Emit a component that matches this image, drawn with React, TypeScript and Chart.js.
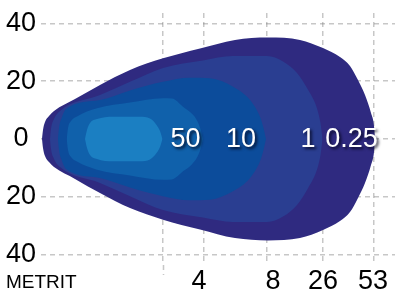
import React, { useEffect, useRef } from 'react';
import { Chart, registerables } from 'chart.js';

Chart.register(...registerables);

const FONT = '"Liberation Sans", Arial, sans-serif';

// Isolux contours (outer -> inner). Upper half outline: position along beam, half-width (m).
const contourNames = ['0.25', '1', '10', '50', '100'];
const contourColors = ['#2f2a80', '#2a3e91', '#0c4c9b', '#1061ab', '#1b7fc2'];

const c025X = [1, 2, 4, 8, 13, 34, 59, 89, 122, 159, 194, 227, 259, 282, 299, 309, 317, 324, 330, 333, 334];
const c025Y = [0, 3.1, 5.9, 8.0, 9.7, 13.8, 18.7, 23.9, 27.9, 31.3, 34.3, 35.1, 34.3, 31.5, 28.4, 25.3, 20.4, 15.2, 9.0, 4.5, 0];

const c1X = [9, 10, 13, 19, 59, 89, 122, 162, 192, 226, 242, 256, 267, 275.5, 279.5, 281.5];
const c1Y = [0, 3.5, 6.9, 9.7, 15.2, 19.8, 24.6, 27.2, 28.7, 28.7, 26.8, 22.8, 17.0, 11.1, 5.5, 0];

const c10X = [17, 18, 21, 25, 59, 89, 122, 149, 169, 192, 209, 219, 222.5, 225];
const c10Y = [0, 3.8, 7.6, 10.4, 13.5, 16.8, 19.8, 21.2, 21.0, 18.1, 13.5, 7.7, 3.8, 0];

const c50X = [25.7, 27, 30, 36, 56, 89, 122, 131, 142, 151, 155.7, 159.5, 162];
const c50Y = [0, 3.8, 6.2, 7.8, 10.6, 12.6, 14.1, 14.0, 11.2, 8.7, 6.6, 3.5, 0];

const c100X = [44, 46, 49, 56, 72, 99, 109, 115.7, 119, 121.5];
const c100Y = [0, 3.1, 5.5, 6.9, 7.7, 7.7, 7.1, 4.8, 2.8, 0];

const contoursX = [c025X, c1X, c10X, c50X, c100X];
const contoursY = [c025Y, c1Y, c10Y, c50Y, c100Y];

// Axes
const xMin = 0;
const xMax = 354;
const yMin = -43.6;
const yMax = 43.6;
const yTicks = [-40, -20, 0, 20, 40];
const xGridPos = [122, 163, 226, 282, 333];
const xLabelPos = [122, 158, 232, 282, 332];
const xLabels = ['', '4', '8', '26', '53'];
const unitLabel = 'METRIT';

// Lux labels inside the beam
const luxLabels = ['50', '10', '1', '0.25'];
const luxLabelPos = [144.5, 200, 267, 310.5];

const GRID = 'rgba(130,130,130,0.45)';
const DASH = [5, 4];

const labelPlugin = {
  id: 'luxLabels',
  afterDraw(chart: any) {
    const { ctx } = chart;
    const x = chart.scales.x;
    const y = chart.scales.y;
    ctx.save();
    ctx.font = `27px ${FONT}`;
    ctx.textAlign = 'center';
    ctx.textBaseline = 'middle';
    ctx.shadowColor = 'rgba(0,0,20,0.8)';
    ctx.shadowOffsetX = 2;
    ctx.shadowOffsetY = 2;
    ctx.shadowBlur = 3;
    ctx.fillStyle = '#ffffff';
    luxLabels.forEach((t, i) => {
      ctx.fillText(t, x.getPixelForValue(luxLabelPos[i]), y.getPixelForValue(0) + 1);
    });
    ctx.shadowColor = 'transparent';
    ctx.shadowBlur = 0;
    ctx.shadowOffsetX = 0;
    ctx.shadowOffsetY = 0;
    ctx.fillStyle = '#000000';
    ctx.font = `19px ${FONT}`;
    ctx.textAlign = 'left';
    ctx.textBaseline = 'alphabetic';
    ctx.fillText(unitLabel, 6, chart.height - 12);
    ctx.restore();
  },
};

export default function App() {
  const ref = useRef<HTMLCanvasElement>(null);

  useEffect(() => {
    document.body.style.margin = '0';
    const datasets: any[] = [];
    // inner contours first so they are drawn on top
    for (let k = contoursX.length - 1; k >= 0; k--) {
      const xs = contoursX[k];
      const ys = contoursY[k];
      const color = contourColors[k];
      datasets.push({
        label: contourNames[k] + ' upper',
        data: xs.map((v, i) => ({ x: v, y: ys[i] })),
        backgroundColor: color,
        borderColor: color,
        borderWidth: 0,
        pointRadius: 0,
        fill: '+1',
        cubicInterpolationMode: 'monotone',
        xAxisID: 'x',
        yAxisID: 'y',
      });
      datasets.push({
        label: contourNames[k] + ' lower',
        data: xs.map((v, i) => ({ x: v, y: -ys[i] })),
        backgroundColor: color,
        borderColor: color,
        borderWidth: 0,
        pointRadius: 0,
        fill: false,
        cubicInterpolationMode: 'monotone',
        xAxisID: 'x',
        yAxisID: 'y',
      });
    }

    const chart = new Chart(ref.current as HTMLCanvasElement, {
      type: 'line',
      data: { datasets },
      options: {
        responsive: false,
        animation: false,
        events: [],
        layout: { padding: { top: 13, right: 5, left: 0, bottom: 0 } },
        plugins: { legend: { display: false }, tooltip: { enabled: false } },
        scales: {
          x: {
            type: 'linear',
            position: 'bottom',
            min: xMin,
            max: xMax,
            z: 1,
            grid: {
              drawOnChartArea: false,
              drawTicks: true,
              tickLength: 10,
              tickWidth: 1.5,
              tickBorderDash: DASH,
              tickColor: (c: any) => (c.index === 0 ? GRID : 'rgba(0,0,0,0)'),
            },
            border: { display: false, dash: DASH },
            afterBuildTicks: (s: any) => {
              s.ticks = xLabelPos.map((v) => ({ value: v }));
            },
            afterFit: (s: any) => {
              s.height = 35;
              s.paddingLeft = 0;
              s.paddingRight = 0;
            },
            ticks: {
              autoSkip: false,
              maxRotation: 0,
              padding: -10,
              color: '#000',
              font: { family: FONT, size: 27 },
              callback: (_v: any, i: number) => xLabels[i],
            },
          },
          xg: {
            type: 'linear',
            position: 'top',
            min: xMin,
            max: xMax,
            z: 1,
            grid: { color: GRID, lineWidth: 1.5, drawTicks: false },
            border: { display: false, dash: DASH },
            ticks: { display: false },
            afterBuildTicks: (s: any) => {
              s.ticks = xGridPos.map((v) => ({ value: v }));
            },
            afterFit: (s: any) => {
              s.height = 0;
              s.paddingLeft = 0;
              s.paddingRight = 0;
            },
          },
          y: {
            type: 'linear',
            min: yMin,
            max: yMax,
            z: 1,
            grid: { color: GRID, lineWidth: 1.5, drawTicks: false },
            border: { display: false, dash: DASH },
            afterBuildTicks: (s: any) => {
              s.ticks = yTicks.map((v) => ({ value: v }));
            },
            afterFit: (s: any) => {
              s.width = 41;
              s.paddingTop = 0;
              s.paddingBottom = 0;
            },
            ticks: {
              padding: 5,
              crossAlign: 'center',
              color: '#000',
              font: { family: FONT, size: 27 },
              callback: (v: any) => String(Math.abs(v)),
            },
          },
        },
      },
      plugins: [labelPlugin],
    } as any);

    return () => chart.destroy();
  }, []);

  return (
    <div style={{ position: 'fixed', left: 0, top: 0, width: 400, height: 300 }}>
      <canvas ref={ref} width={400} height={300} />
    </div>
  );
}
